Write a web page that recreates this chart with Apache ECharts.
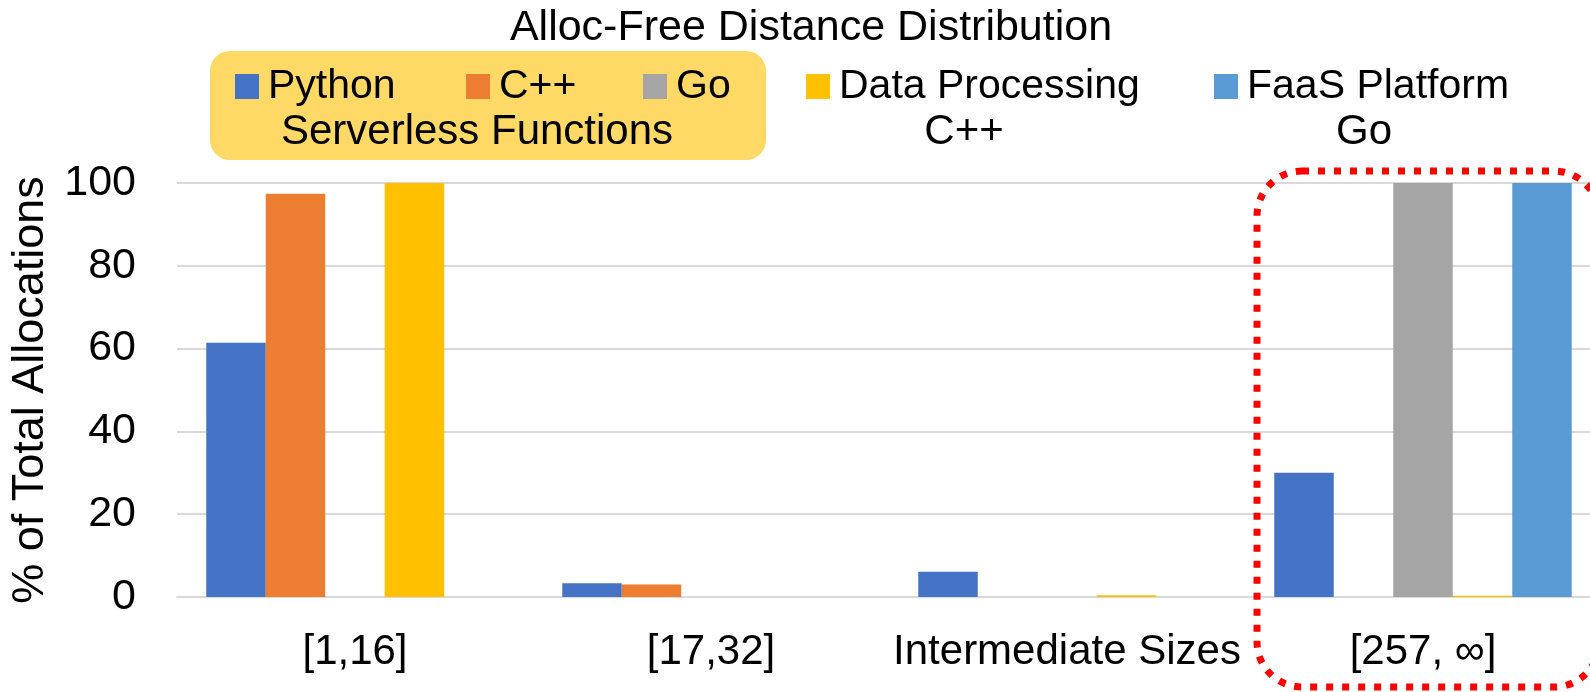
<!DOCTYPE html>
<html><head><meta charset="utf-8">
<script src="https://cdn.jsdelivr.net/npm/echarts@6/dist/echarts.min.js"></script>
<style>html,body{margin:0;padding:0;background:#fff}#c{width:1590px;height:692px}</style>
</head><body><div id="c"></div>
<script>
const categories = ['[1,16]', '[17,32]', 'Intermediate Sizes', '[257, \u221E]'];
const seriesNames = ['Python', 'C++', 'Go', 'Data Processing', 'FaaS Platform'];
const python = [61.4, 3.3, 6.1, 30];
const cpp = [97.4, 3.0, 0, 0];
const go = [0, 0, 0, 100];
const dataProcessing = [100, 0, 0.4, 0.3];
const faasPlatform = [0, 0, 0, 100];
const yTicks = [0, 20, 40, 60, 80, 100];
const groupLabels = ['Serverless Functions', 'C++', 'Go'];
const titleText = 'Alloc-Free Distance Distribution';
const yAxisName = '% of Total Allocations';

const colors = ['#4472C4', '#ED7D31', '#A5A5A5', '#FFC000', '#5B9BD5'];
const values = [python, cpp, go, dataProcessing, faasPlatform];
const FONT = "'Liberation Sans', Arial, sans-serif";
const legendLefts = [235, 466, 643, 806, 1214];
const groupLabelX = [477, 964, 1364];

const chart = echarts.init(document.getElementById('c'), null, {renderer: 'canvas'});
chart.setOption({
  animation: false,
  textStyle: {fontFamily: FONT},
  title: {
    text: titleText, left: 806, textAlign: 'center', top: 2,
    textStyle: {fontFamily: FONT, fontSize: 43, fontWeight: 'normal', color: '#000'}
  },
  legend: seriesNames.map((n, i) => ({
    data: [n], left: legendLefts[i], top: 66, icon: 'rect',
    itemWidth: 24, itemHeight: 25, itemGap: 0, padding: 0,
    textStyle: {fontFamily: FONT, fontSize: 41, color: '#000', padding: [0, 0, 0, 4]}
  })),
  grid: {left: 177, top: 183, width: 1424, bottom: 95, containLabel: false, outerBoundsMode: 'none'},
  xAxis: {
    type: 'category', data: categories,
    axisTick: {show: false},
    axisLine: {lineStyle: {color: '#D9D9D9', width: 2}},
    axisLabel: {fontFamily: FONT, fontSize: 42, color: '#000', margin: 34, interval: 0}
  },
  yAxis: {
    type: 'value', min: 0, max: 100, interval: 20,
    name: yAxisName, nameLocation: 'middle', nameGap: 120,
    nameTextStyle: {fontFamily: FONT, fontSize: 45, color: '#000'},
    axisLabel: {fontFamily: FONT, fontSize: 43, color: '#000', margin: 41,
      formatter: v => yTicks.includes(v) ? String(v) : ''},
    splitLine: {lineStyle: {color: '#D9D9D9', width: 2}},
    axisLine: {show: false}, axisTick: {show: false}
  },
  series: seriesNames.map((n, i) => ({
    name: n, type: 'bar', data: values[i], barWidth: 59.5, barGap: '0%',
    itemStyle: {color: colors[i]}
  })),
  graphic: [
    {type: 'rect', z: -1, shape: {x: 210, y: 51, width: 556, height: 109, r: 20},
     style: {fill: '#FFD966'}},
    ...groupLabels.map((t, i) => ({
      type: 'text', x: groupLabelX[i], y: 132,
      style: {text: t, font: '42px ' + FONT, fill: '#000', textAlign: 'center', textVerticalAlign: 'middle'}
    })),
    {type: 'rect', z: 10, shape: {x: 1257, y: 171, width: 342, height: 516, r: 45},
     style: {fill: 'none', stroke: '#FF0000', lineWidth: 7, lineDash: [7, 9]}}
  ]
});
</script></body></html>
